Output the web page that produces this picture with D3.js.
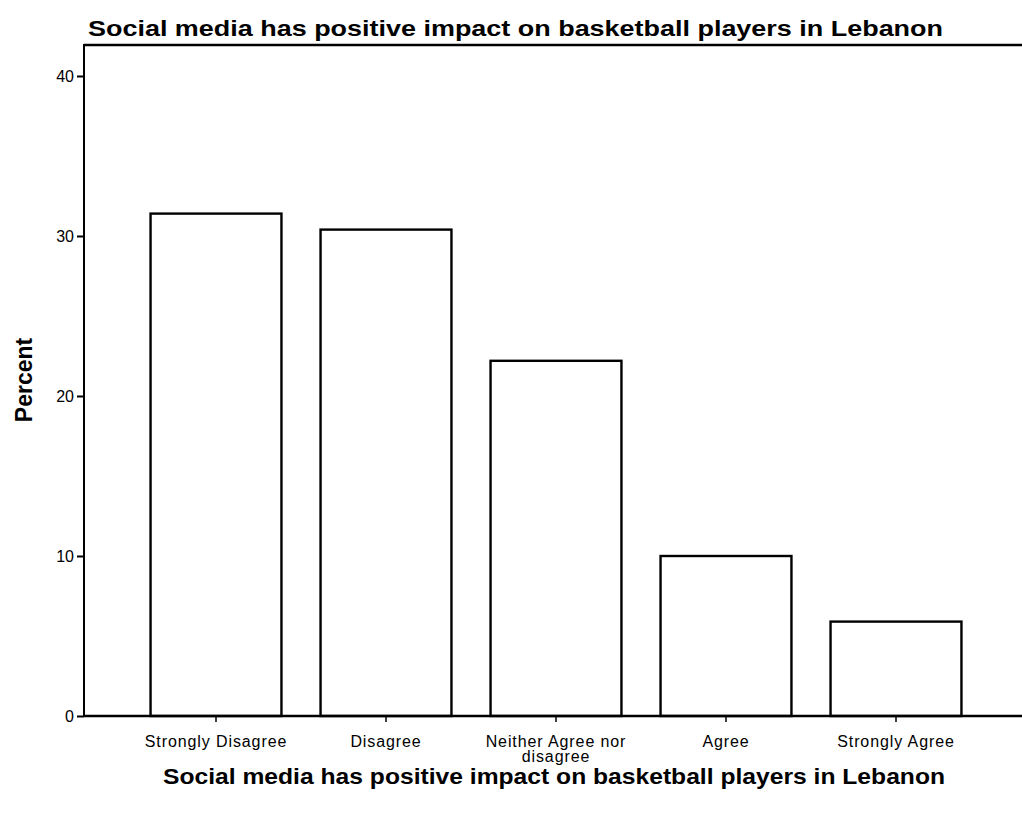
<!DOCTYPE html>
<html>
<head>
<meta charset="utf-8">
<script src="https://cdn.jsdelivr.net/npm/d3@7"></script>
<style>
body { margin: 0; background: #fff; }
svg { display: block; }
</style>
</head>
<body>
<svg></svg>
<script>
const categories = ['Strongly Disagree', 'Disagree', 'Neither Agree nor disagree', 'Agree', 'Strongly Agree'];
const percents = [31.4, 30.4, 22.2, 10.0, 5.9];
const yTicks = [0, 10, 20, 30, 40];
const title = 'Social media has positive impact on basketball players in Lebanon';
const xTitle = 'Social media has positive impact on basketball players in Lebanon';
const yTitle = 'Percent';

const width = 1022;
const height = 815;
const plotLeft = 84;
const plotTop = 44;
const plotBottom = 716;

var svg = d3.select('svg').attr('width', width).attr('height', height);

var x = d3.scaleBand()
	.domain(categories)
	.range([131, 981])
	.paddingInner(0.23)
	.paddingOuter(0.115);

var y = d3.scaleLinear()
	.domain([0, 42])
	.range([plotBottom, plotTop]);

// frame: top line
svg.append('line')
	.attr('x1', plotLeft).attr('x2', width)
	.attr('y1', plotTop + 1).attr('y2', plotTop + 1)
	.attr('stroke', '#000').attr('stroke-width', 2.5);

// bars
svg.append('g').selectAll('rect')
	.data(categories).enter().append('rect')
	.attr('x', d => x(d))
	.attr('y', (d, i) => y(percents[i]))
	.attr('width', x.bandwidth())
	.attr('height', (d, i) => plotBottom - y(percents[i]))
	.attr('fill', '#fff')
	.attr('stroke', '#000')
	.attr('stroke-width', 2.4);

// y axis
var yAxis = svg.append('g')
	.attr('transform', `translate(${plotLeft},0)`)
	.call(d3.axisLeft(y).tickValues(yTicks).tickSize(7).tickPadding(3));
yAxis.select('.domain').attr('d', `M0,${plotTop}V${plotBottom}`).attr('stroke-width', 2);
yAxis.selectAll('.tick line').attr('stroke-width', 2);
yAxis.selectAll('.tick text')
	.attr('font-family', 'Liberation Sans, Arial, sans-serif')
	.attr('font-size', 16).attr('fill', '#000');

// x axis
var xAxis = svg.append('g')
	.attr('transform', `translate(0,${plotBottom})`)
	.call(d3.axisBottom(x).tickSize(6).tickPadding(4));
xAxis.select('.domain').attr('d', `M${plotLeft},0H${width}`).attr('stroke-width', 2.5);
xAxis.selectAll('.tick line').attr('stroke-width', 1.5);
xAxis.selectAll('.tick text').remove();
xAxis.selectAll('.tick').append('text')
	.attr('fill', '#000')
	.attr('font-family', 'Liberation Sans, Arial, sans-serif')
	.attr('font-size', 16)
	.attr('letter-spacing', 0.9)
	.attr('text-anchor', 'middle')
	.each(function(d) {
		var lines = d === 'Neither Agree nor disagree' ? ['Neither Agree nor', 'disagree'] : [d];
		var t = d3.select(this);
		lines.forEach((s, i) => {
			t.append('tspan').attr('x', 0).attr('y', 31 + i * 15).text(s);
		});
	});

// titles
svg.append('text')
	.attr('x', 88).attr('y', 36)
	.attr('font-family', 'Liberation Sans, Arial, sans-serif')
	.attr('font-weight', 'bold').attr('font-size', 22)
	.attr('textLength', 855).attr('lengthAdjust', 'spacingAndGlyphs')
	.text(title);

svg.append('text')
	.attr('x', 554).attr('y', 784)
	.attr('text-anchor', 'middle')
	.attr('font-family', 'Liberation Sans, Arial, sans-serif')
	.attr('font-weight', 'bold').attr('font-size', 22)
	.attr('textLength', 782).attr('lengthAdjust', 'spacingAndGlyphs')
	.text(xTitle);

svg.append('text')
	.attr('transform', 'translate(32,380) rotate(-90)')
	.attr('text-anchor', 'middle')
	.attr('font-family', 'Liberation Sans, Arial, sans-serif')
	.attr('font-weight', 'bold').attr('font-size', 23)
	.text(yTitle);
</script>
</body>
</html>
